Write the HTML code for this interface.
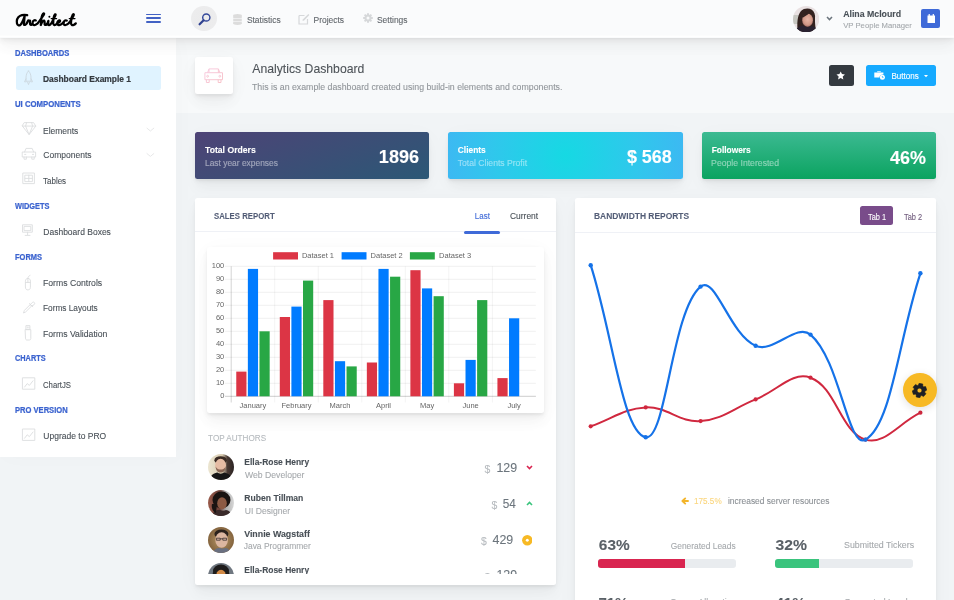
<!DOCTYPE html>
<html><head><meta charset="utf-8">
<style>
*{box-sizing:border-box;margin:0;padding:0}
html,body{width:954px;height:600px;overflow:hidden}body{filter:blur(.25px)}
body{-webkit-text-stroke:.1px currentColor;background:#f1f4f6;font-family:"Liberation Sans",sans-serif;color:#495057;position:relative;font-size:8.8px;line-height:1.5}
.a{position:absolute}
.t{position:absolute;white-space:nowrap;line-height:1}
/* header */
#hdr{left:0;top:0;width:954px;height:37.5px;background:#fafbfc;z-index:10;
 box-shadow:0 4.7px 22px rgba(4,9,20,.03),0 9.4px 14px rgba(4,9,20,.03),0 2.5px 5.3px rgba(4,9,20,.05),0 1.25px 1.9px rgba(4,9,20,.03)}
.hb{position:absolute;left:145.7px;width:15px;height:1.6px;background:#4262c4;border-radius:1px}
/* sidebar */
#side{left:0;top:37.5px;width:175.5px;height:419.5px;background:#fff;z-index:9;box-shadow:3px 0 20px rgba(0,0,0,.02)}
.sh{position:absolute;text-transform:uppercase;left:15.4px;font-size:8px;font-weight:bold;color:#3b63cf;-webkit-text-stroke:.22px #3b63cf;line-height:1;white-space:nowrap}
.si{position:absolute;left:43.3px;font-size:8.8px;color:#495057;line-height:1;white-space:nowrap}
.ic{position:absolute;left:22px;width:14px;height:14px;opacity:.32}
/* page title */
#pt{left:175.5px;top:37.5px;width:778.5px;height:75px;background:rgba(255,255,255,.45)}
.card{position:absolute;background:#fff;border-radius:2.5px;
 box-shadow:0 4.7px 22px rgba(4,9,20,.03),0 9.4px 14px rgba(4,9,20,.03),0 2.5px 5.3px rgba(4,9,20,.05),0 1.25px 1.9px rgba(4,9,20,.03)}
.w{height:46.8px;top:132px;width:234.6px;color:#fff}
.wh{position:absolute;left:10px;top:12px;font-weight:bold;font-size:8.8px;line-height:1;white-space:nowrap}
.ws{position:absolute;left:10px;top:25.5px;font-size:8.8px;line-height:1;opacity:.5;white-space:nowrap}
.wn{position:absolute;right:10px;top:16px;font-weight:bold;font-size:19px;line-height:1;white-space:nowrap}
.ch{position:absolute;left:0;top:0;right:0;height:34.6px;border-bottom:1px solid rgba(26,54,126,.07)}
.cht{position:absolute;text-transform:uppercase;left:19.4px;top:14px;font-size:8.8px;font-weight:bold;color:rgba(13,27,62,.7);line-height:1;white-space:nowrap}
#sb1{font-size:8.4px!important;letter-spacing:0px;transform-origin:0 0;transform:translate(0px,-0.48px) scaleX(0.9053)}#s_de{font-size:8.5px!important;letter-spacing:0px;transform-origin:0 0;transform:translate(0px,0px) scaleX(0.9911)}#sb2{font-size:8.4px!important;letter-spacing:0px;transform-origin:0 0;transform:translate(0px,0px) scaleX(0.9282)}#sb3{font-size:8.5px!important;letter-spacing:0px;transform-origin:0 0;transform:translate(0px,1.44px) scaleX(0.9951)}#sb4{font-size:8.5px!important;letter-spacing:0px;transform-origin:0 0;transform:translate(0px,0px) scaleX(1)}#sb5{font-size:8.5px!important;letter-spacing:0px;transform-origin:0 0;transform:translate(0px,0.64px) scaleX(0.94)}#sb6{font-size:8.4px!important;letter-spacing:0px;transform-origin:0 0;transform:translate(0px,0px) scaleX(0.8825)}#sb7{font-size:8.5px!important;letter-spacing:0px;transform-origin:0 0;transform:translate(0px,0px) scaleX(1)}#sb8{font-size:8.4px!important;letter-spacing:0px;transform-origin:0 0;transform:translate(0px,0.0px) scaleX(0.8933)}#sb9{font-size:8.5px!important;letter-spacing:0px;transform-origin:0 0;transform:translate(0px,0px) scaleX(1.019)}#sb10{font-size:8.5px!important;letter-spacing:0px;transform-origin:0 0;transform:translate(0px,0px) scaleX(0.9737)}#sb11{font-size:8.5px!important;letter-spacing:0px;transform-origin:0 0;transform:translate(0px,0.8px) scaleX(1.0198)}#sb12{font-size:8.4px!important;letter-spacing:0px;transform-origin:0 0;transform:translate(0px,0.0px) scaleX(0.8756)}#sb13{font-size:8.5px!important;letter-spacing:0px;transform-origin:0 0;transform:translate(0px,0.4px) scaleX(0.9113)}#sb14{font-size:8.4px!important;letter-spacing:0px;transform-origin:0 0;transform:translate(0px,0px) scaleX(0.9052)}#sb15{font-size:8.5px!important;letter-spacing:0px;transform-origin:0 0;transform:translate(0px,0.8px) scaleX(1)}#t_stat{font-size:8.45px!important;letter-spacing:0px;transform-origin:0 0;transform:translate(0px,0.8px) scaleX(1)}#t_proj{font-size:8.45px!important;letter-spacing:0px;transform-origin:0 0;transform:translate(0px,0.8px) scaleX(1)}#t_set{font-size:8.45px!important;letter-spacing:0px;transform-origin:0 0;transform:translate(0.2px,0.8px) scaleX(1)}#t_name{font-size:8.78px!important;letter-spacing:0px;transform-origin:0 0;transform:translate(0.55px,0px) scaleX(1)}#t_role{font-size:7.7px!important;letter-spacing:0px;transform-origin:0 0;transform:translate(0.65px,0px) scaleX(1)}#t_title{font-size:12.22px!important;letter-spacing:0px;transform-origin:0 0;transform:translate(0.5px,0px) scaleX(1)}#t_sub{font-size:8.8px!important;letter-spacing:0px;transform-origin:0 0;transform:translate(0.0px,0px) scaleX(0.9966)}#t_btn{font-size:8.3px!important;letter-spacing:0px;transform-origin:0 0;transform:translate(-0.6px,0.88px) scaleX(0.9714)}#w1h{font-size:8.4px!important;letter-spacing:0px;transform-origin:0 0;transform:translate(0.0px,2.02px) scaleX(1.0323)}#w1s{font-size:8.6px!important;letter-spacing:0px;transform-origin:0 0;transform:translate(0px,1.2px) scaleX(0.9784)}#w1n{font-size:18.1px!important;letter-spacing:0px;transform-origin:100% 0;transform:translate(0px,0px) scaleX(1)}#w2h{font-size:8.4px!important;letter-spacing:0px;transform-origin:0 0;transform:translate(-0.3px,2.02px) scaleX(1)}#w2s{font-size:8.6px!important;letter-spacing:0px;transform-origin:0 0;transform:translate(-0.3px,1.2px) scaleX(1)}#w2n{font-size:18.1px!important;letter-spacing:0px;transform-origin:100% 0;transform:translate(-0.5px,0.16px) scaleX(0.9916)}#w3h{font-size:8.4px!important;letter-spacing:0px;transform-origin:0 0;transform:translate(0px,2.02px) scaleX(1)}#w3s{font-size:8.6px!important;letter-spacing:0px;transform-origin:0 0;transform:translate(-0.9px,1.2px) scaleX(1.0079)}#w3n{font-size:18.1px!important;letter-spacing:0px;transform-origin:100% 0;transform:translate(-0.2px,1.28px) scaleX(0.992)}#c1t{font-size:8.6px!important;letter-spacing:0px;transform-origin:0 0;transform:translate(0px,0px) scaleX(0.9075)}#c2t{font-size:8.6px!important;letter-spacing:0px;transform-origin:0 0;transform:translate(0px,0px) scaleX(0.9814)}#t_last{font-size:8.3px!important;letter-spacing:0px;transform-origin:0 0;transform:translate(-0.25px,0px) scaleX(0.9647)}#t_cur{font-size:8.3px!important;letter-spacing:0px;transform-origin:0 0;transform:translate(-1.0px,0px) scaleX(1.0157)}#t_tab1{font-size:8.5px!important;letter-spacing:0px;transform-origin:0 0;transform:translate(0px,1.56px) scaleX(0.869)}#t_tab2{font-size:8.5px!important;letter-spacing:0px;transform-origin:0 0;transform:translate(0px,1.56px) scaleX(0.8725)}#t_top{font-size:8.3px!important;letter-spacing:0px;transform-origin:0 0;transform:translate(-0.9px,0px) scaleX(0.9797)}#t_pct{font-size:8.5px!important;letter-spacing:0px;transform-origin:0 0;transform:translate(0px,0px) scaleX(0.9586)}#t_inc{font-size:8.5px!important;letter-spacing:0px;transform-origin:0 0;transform:translate(0px,0px) scaleX(0.9893)}#p1n{font-size:15.4px!important;letter-spacing:0px;transform-origin:0 0;transform:translate(0.45px,-1.52px) scaleX(1)}#p1t{font-size:8.6px!important;letter-spacing:0px;transform-origin:0 0;transform:translate(-0.25px,0.88px) scaleX(0.9761)}#p2n{font-size:15.4px!important;letter-spacing:0px;transform-origin:0 0;transform:translate(-0.45px,-2.08px) scaleX(1.0226)}#p2t{font-size:8.6px!important;letter-spacing:0px;transform-origin:0 0;transform:translate(0px,0px) scaleX(1.0265)}#an0{font-size:8.5px!important;letter-spacing:0px;transform-origin:0 0;transform:translate(-0.7px,1.44px) scaleX(0.9941)}#as0{font-size:8.5px!important;letter-spacing:0px;transform-origin:0 0;transform:translate(0.0px,0.8px) scaleX(1.0174)}#an1{font-size:8.5px!important;letter-spacing:0px;transform-origin:0 0;transform:translate(-0.7px,1.04px) scaleX(1.0105)}#as1{font-size:8.5px!important;letter-spacing:0px;transform-origin:0 0;transform:translate(-0.2px,1.44px) scaleX(1.0096)}#an2{font-size:8.5px!important;letter-spacing:0px;transform-origin:0 0;transform:translate(-0.8px,0.8px) scaleX(1.0374)}#as2{font-size:8.5px!important;letter-spacing:0px;transform-origin:0 0;transform:translate(-1.3px,0px) scaleX(0.9943)}#an3{font-size:8.5px!important;letter-spacing:0px;transform-origin:0 0;transform:translate(-0.7px,1.04px) scaleX(0.9941)}#av0{font-size:12.4px!important;letter-spacing:0px;transform-origin:100% 0;transform:translate(0px,1.28px) scaleX(1)}#av1{font-size:12.4px!important;letter-spacing:0px;transform-origin:100% 0;transform:translate(-1.05px,0.8px) scaleX(0.95)}#av2{font-size:12.4px!important;letter-spacing:0px;transform-origin:100% 0;transform:translate(0.75px,1.44px) scaleX(1)}</style></head>
<body>
<!-- HEADER -->
<div id="hdr" class="a">
 <svg class="a" style="left:14px;top:10px" width="64" height="18" viewBox="0 0 64 18" fill="none" stroke="#000" stroke-width="2.25" stroke-linecap="round" stroke-linejoin="round">
  <path d="M 13.20 5.15 C 11.00 4.70 8.00 4.70 6.00 5.90 C 3.50 7.40 2.40 10.50 3.00 13.60 C 3.40 15.40 5.00 15.90 6.40 14.80 C 8.20 13.40 9.60 9.00 10.60 6.50 L 9.90 14.40 C 10.40 15.40 11.60 15.00 12.60 13.60 C 13.20 12.60 13.80 11.20 14.20 10.40 C 14.80 10.60 15.40 10.90 16.00 10.60 C 15.90 12.00 15.80 13.60 16.20 14.40 C 16.80 15.20 17.60 14.80 18.20 14.00"/>
  <path d="M 21.80 10.40 C 20.60 9.80 19.00 10.60 18.60 12.20 C 18.20 14.00 19.20 15.40 21.00 15.00 C 21.80 14.80 22.60 14.20 23.40 13.60 C 25.00 12.00 27.60 8.00 29.40 5.45 C 30.20 4.25 30.40 3.35 29.60 3.42 C 28.40 3.65 27.60 6.50 27.20 10.00 L 26.80 15.00 C 27.60 13.00 28.80 10.60 30.00 10.60 C 31.00 10.80 30.60 13.00 30.60 14.20 C 30.80 15.20 31.80 15.20 32.60 14.40 C 33.40 13.60 34.00 12.20 34.40 10.80 L 34.00 14.00 C 34.20 15.40 35.40 15.40 36.40 14.40 C 38.00 12.80 40.00 8.00 41.40 5.45 C 42.00 4.25 41.40 3.95 40.80 4.70 C 39.80 6.20 39.20 10.00 39.20 13.20 C 39.40 15.20 40.60 15.40 41.80 14.60 C 43.00 13.80 44.40 12.60 45.60 11.80 C 46.40 11.20 46.20 10.20 45.20 10.40 C 43.80 10.80 43.00 12.60 43.20 13.80 C 43.60 15.40 45.40 15.40 46.80 14.60 C 48.00 13.80 49.00 13.00 49.60 12.40"/>
  <path d="M 52.80 10.60 C 51.80 9.80 50.20 10.60 49.60 12.20 C 49.20 13.80 50.00 15.20 51.60 15.00 C 52.60 14.90 53.60 14.20 54.60 13.40 C 56.20 11.80 58.40 8.00 59.60 5.60 C 60.20 4.25 59.60 3.80 58.80 4.70 C 57.80 6.20 57.00 9.60 57.00 12.60 C 57.00 15.00 58.20 15.60 59.60 15.00 C 60.60 14.60 61.20 14.00 61.80 13.40"/>
  <path d="M37.2 8.6 L42.6 8.6 M55.2 8.6 L61 8.6" stroke-width="1.2"/>
  <circle cx="35.4" cy="6.8" r="1" fill="#000" stroke="none"/>
 </svg>
 <div class="a" style="left:0;top:35.3px;width:954px;height:2.2px;background:linear-gradient(#fafbfc,#fff 60%,#fff)"></div>
 <div class="hb" style="top:13.7px"></div><div class="hb" style="top:17.45px"></div><div class="hb" style="top:21.2px"></div>
 <div class="a" style="left:191.4px;top:5.9px;width:25.2px;height:25.2px;border-radius:50%;background:radial-gradient(circle,#ebebec 0%,#ececed 70%,#f0f1f2 100%)"></div>
 <svg class="a" style="left:195px;top:9px" width="18" height="18" viewBox="195 9 18 18"><circle cx="206.3" cy="17.5" r="3.6" fill="none" stroke="#34489a" stroke-width="1.45"/><path d="M203.6 20.3 L199.6 24.3" stroke="#2f4190" stroke-width="2.2" stroke-linecap="round"/></svg>
 <!-- nav -->
 <svg class="a" style="left:233px;top:13.5px" width="9" height="11" viewBox="0 0 9 11"><g fill="#dcdcdc"><ellipse cx="4.5" cy="1.6" rx="4.3" ry="1.5"/><rect x=".2" y="1.6" width="8.6" height="2.4"/><rect x=".2" y="4.6" width="8.6" height="2.4"/><rect x=".2" y="7.6" width="8.6" height="2.2"/><ellipse cx="4.5" cy="9.6" rx="4.3" ry="1.3"/></g></svg>
 <div class="t" id="t_stat" style="left:246.9px;top:15.2px;font-size:8.8px;color:#62676c">Statistics</div>
 <svg class="a" style="left:297.5px;top:13px" width="12" height="12" viewBox="0 0 12 12"><path d="M1 2.5 H6.5 M1 2.5 V11 H9.5 V6" fill="none" stroke="#d6d8da" stroke-width="1.2"/><path d="M4.5 8 L5 6.3 L10.3 1 L11.4 2.1 L6.1 7.4 Z" fill="#d6d8da"/></svg>
 <div class="t" id="t_proj" style="left:313.6px;top:15.2px;font-size:8.8px;color:#62676c">Projects</div>
 <svg class="a" style="left:362.5px;top:13.2px" width="10" height="10" viewBox="0 0 10 10"><g fill="#d6d8da"><circle cx="5" cy="5" r="3.5"/><g stroke="#d6d8da" stroke-width="2"><path d="M5 .2V9.8M.2 5H9.8M1.6 1.6L8.4 8.4M8.4 1.6L1.6 8.4"/></g></g><circle cx="5" cy="5" r="1.5" fill="#fafbfc"/></svg>
 <div class="t" id="t_set" style="left:376.8px;top:15.2px;font-size:8.8px;color:#62676c">Settings</div>
 <!-- user -->
 <svg class="a" style="left:792.9px;top:5.5px" width="26.3" height="26.3" viewBox="0 0 26.3 26.3">
  <defs><clipPath id="ua"><circle cx="13.15" cy="13.15" r="13.15"/></clipPath>
  <radialGradient id="uf" cx=".5" cy=".45" r=".55"><stop offset="0" stop-color="#e8b4a4"/><stop offset=".7" stop-color="#d39a88"/><stop offset="1" stop-color="#a8706a"/></radialGradient></defs>
  <g clip-path="url(#ua)">
   <rect width="26.3" height="26.3" fill="#e9e1e2"/>
   <rect x="0" y="9" width="6" height="9" fill="#b8bcb4" opacity=".7"/>
   <path d="M5 26 C3.5 18 4.5 9 8 5 C10.5 2.2 15.5 1.8 18.5 3.5 C21.5 5.5 22.5 9 22 13 C21.8 17 22.5 21 23 26Z" fill="#33221f"/>
   <ellipse cx="14.6" cy="14.2" rx="5.4" ry="6.6" fill="url(#uf)"/>
   <path d="M9.5 11 C11 7 14 5.5 17 5.8 C16 8 13.5 9.5 10 11.5Z" fill="#33221f"/>
   <path d="M2 27 C3 21.5 7 19.5 10.5 19.8 C12.5 21.5 16.5 21.5 18.5 20 C22 20.3 24.5 22.5 25 27Z" fill="#2a2230"/>
  </g>
 </svg>
 <svg class="a" style="left:826px;top:15.5px" width="7" height="5" viewBox="0 0 7 5"><path d="M1 1 L3.5 3.6 L6 1" fill="none" stroke="#6c757d" stroke-width="1.5"/></svg>
 <div class="t" id="t_name" style="left:842.6px;top:9.6px;font-size:8.8px;font-weight:bold;color:#495057">Alina Mclourd</div>
 <div class="t" id="t_role" style="left:842.6px;top:22px;font-size:7.8px;color:#495057;opacity:.5">VP People Manager</div>
 <div class="a" style="left:921.4px;top:9.4px;width:18.6px;height:18.4px;border-radius:2px;background:#3f6ad8"></div>
 <svg class="a" style="left:925.5px;top:12.5px" width="10.5" height="12" viewBox="0 0 10.5 12"><rect x="1.5" y="2.5" width="7.5" height="7.5" fill="#fff"/><rect x="2.6" y="1" width="1.2" height="2.5" fill="#fff"/><rect x="6.7" y="1" width="1.2" height="2.5" fill="#fff"/></svg>
</div>

<!-- SIDEBAR -->
<div id="side" class="a">
 <div class="sh" id="sb1" style="top:11.6px">Dashboards</div>
 <div class="a" style="left:15.5px;top:28.9px;width:145px;height:23.6px;background:#e0f3ff;border-radius:2.5px"></div>
 <div class="si" id="s_de" style="top:37.3px;font-weight:bold;color:#343a40;-webkit-text-stroke:.2px #343a40">Dashboard Example 1</div>
 <div class="sh" id="sb2" style="top:62.4px">UI Components</div>
 <div class="si" id="sb3" style="top:88.7px">Elements</div>
 <div class="si" id="sb4" style="top:113.8px">Components</div>
 <div class="si" id="sb5" style="top:138.6px">Tables</div>
 <div class="sh" id="sb6" style="top:164.4px">Widgets</div>
 <div class="si" id="sb7" style="top:190.3px">Dashboard Boxes</div>
 <div class="sh" id="sb8" style="top:215.9px">Forms</div>
 <div class="si" id="sb9" style="top:241.5px">Forms Controls</div>
 <div class="si" id="sb10" style="top:266.3px">Forms Layouts</div>
 <div class="si" id="sb11" style="top:291.8px">Forms Validation</div>
 <div class="sh" id="sb12" style="top:316.9px">Charts</div>
 <div class="si" id="sb13" style="top:343px">ChartJS</div>
 <div class="sh" id="sb14" style="top:368.4px">Pro Version</div>
 <div class="si" id="sb15" style="top:393.8px">Upgrade to PRO</div>
</div>

<svg class="a" style="left:0;top:0;z-index:9" width="180" height="460" viewBox="0 0 180 460" fill="none" stroke="#b9bcbf" stroke-width=".9" stroke-linejoin="round" stroke-linecap="round">
 <g opacity=".5">
 <path d="M28.5 71 C30.3 72.6 31 75 31 78 V81.2 H26 V78 C26 75 26.7 72.6 28.5 71Z M26 78.8 L24.5 81.8 H26 M31 78.8 L32.6 81.8 H31 M27.6 82.2 L28.5 84.6 L29.4 82.2"/>
 <path d="M24.6 122.6 H33.6 L35.8 126.1 L29.1 134.6 L22.4 126.1Z M22.4 126.1 H35.8 M26.6 122.6 L25.6 126.1 L29.1 134.6 L32.6 126.1 L31.6 122.6"/>
 <path d="M24.6 152 L26 148.4 H32.2 L33.6 152 M22.6 152 H35.6 V157 H22.6Z M24 157 V159.2 H26.4 V157 M31.8 157 V159.2 H34.2 V157 M24.6 154.4 H25.8 M32.4 154.4 H33.6"/>
 <path d="M23.2 173 H34.4 V183.6 H23.2Z M25.2 175.2 H32.4 V181.6 H25.2Z M25.2 178.4 H32.4 M28.8 175.2 V181.6"/>
 <path d="M22.9 224.8 H32.3 V232.2 H22.9Z M27.6 232.2 V234.6 M25.2 235.4 H30 M24.4 226.4 H30.8 V230.6 H24.4Z"/>
 <path d="M25.4 281 C25.4 279.4 26.4 278.4 27.9 278.4 C29.4 278.4 30.4 279.4 30.4 281 V287.4 C30.4 289 29.4 289.9 27.9 289.9 C26.4 289.9 25.4 289 25.4 287.4Z M27.9 278.4 V282.4 M25.4 282.4 H30.4 M27.9 278.4 C27.9 277 28.6 276 30 275.4"/>
 <path d="M23.6 312.6 L24.4 310.4 L30.2 304.6 L31.6 306 L25.8 311.8Z M30.2 304.6 L32.2 302.6 C32.9 301.9 34 301.9 34.4 302.6 C34.9 303.2 34.7 304.1 34 304.8 L31.6 306 M29.6 303.6 L32.8 306.8"/>
 <path d="M26.3 325.6 H29.9 V329.6 H26.3Z M25.5 329.6 H30.8 V338.6 C30.8 339.4 30.2 340 29.4 340 H26.9 C26.1 340 25.5 339.4 25.5 338.6Z M27.3 327 V328 M28.9 327 V328"/>
 <path d="M22.8 377.8 H34.8 V389.2 H22.8Z M24.6 387 L27.2 383.6 L29.4 385.4 L33 380.8"/>
 <path d="M22.8 429 H34.8 V440.4 H22.8Z M24.6 438.2 L27.2 434.8 L29.4 436.6 L33 432"/>
 <path d="M147 128.2 L150.4 131 L153.8 128.2 M147 153.6 L150.4 156.4 L153.8 153.6" stroke="#c9cbcd"/>
 </g>
</svg>

<!-- PAGE TITLE -->
<div id="pt" class="a">
 <div class="card" style="left:19.5px;top:19px;width:37.6px;height:37.6px"></div>
 <svg class="a" style="left:19.5px;top:19px" width="37.6" height="37.6" viewBox="195 56.5 37.6 37.6" fill="none" stroke-width=".95" stroke-linejoin="round">
  <defs><linearGradient id="mf" x1="0" y1="0" x2="1" y2="1"><stop offset="0" stop-color="#f3a0c8"/><stop offset="1" stop-color="#f08a96"/></linearGradient></defs>
  <g stroke="url(#mf)" opacity=".55">
  <path d="M207.6 72.2 L209 68.4 H218.4 L219.8 72.2 M204.9 72.2 H222.5 V79.2 H204.9Z M206.4 79.2 V82 H209.2 V79.2 M218.2 79.2 V82 H221 V79.2 M209 68.4 V72.2 M218.4 68.4 V72.2"/>
  <circle cx="207.6" cy="75.7" r=".9"/><circle cx="219.8" cy="75.7" r=".9"/><path d="M211.5 76.4 H215.9"/>
  </g>
 </svg>


 <div class="t" id="t_title" style="left:76.3px;top:25.5px;font-size:12.5px;color:#4d5358;-webkit-text-stroke:.1px #4d5358">Analytics Dashboard</div>
 <div class="t" id="t_sub" style="left:76.3px;top:45.3px;font-size:8.8px;color:#495057;opacity:.6">This is an example dashboard created using build-in elements and components.</div>
 <div class="a" style="left:653px;top:27.7px;width:25.3px;height:20.6px;background:#343a40;border-radius:2.5px"></div>
 <div class="a" style="left:690.6px;top:27.7px;width:70px;height:20.4px;background:#16aaff;border-radius:2.5px"></div>
 <div class="t" id="t_btn" style="left:716.3px;top:33.5px;font-size:8.8px;color:#fff">Buttons</div>
 <svg class="a" style="left:660.9px;top:33.6px" width="9.4" height="9.4" viewBox="0 0 10 10"><path d="M5 .4 L6.35 3.3 L9.5 3.65 L7.15 5.8 L7.8 8.95 L5 7.35 L2.2 8.95 L2.85 5.8 L.5 3.65 L3.65 3.3Z" fill="#fff"/></svg>
 <svg class="a" style="left:698px;top:33.4px" width="11" height="9" viewBox="0 0 11 9" fill="#fff"><path d="M3.2 1.2 V.3 H6.8 V1.2 H3.9 Z" /><path d="M.3 1.5 H9.4 V3.6 A3.2 3.2 0 0 0 5.4 6.6 H.3Z"/><circle cx="8.4" cy="6.3" r="2.5"/><path d="M8.4 5 V6.4 H9.5" stroke="#16aaff" stroke-width=".7" fill="none"/></svg>
 <svg class="a" style="left:748.7px;top:37px" width="4" height="3" viewBox="0 0 4 3"><path d="M0 0 H4 L2 2.2Z" fill="#fff"/></svg>
</div>

<!-- WIDGETS -->
<div class="card w" style="left:194.5px;background:linear-gradient(-20deg,#2b5876 0%,#4e4376 100%)">
 <div class="wh" id="w1h">Total Orders</div><div class="ws" id="w1s">Last year expenses</div><div class="wn" id="w1n">1896</div>
</div>
<div class="card w" style="left:448.1px;background:radial-gradient(circle 155px at center,#16d9e3 0%,#30c7ec 47%,#46aef7 100%)">
 <div class="wh" id="w2h">Clients</div><div class="ws" id="w2s">Total Clients Profit</div><div class="wn" id="w2n">$ 568</div>
</div>
<div class="card w" style="left:701.7px;background:linear-gradient(to top,#0ba360 0%,#3cba92 100%)">
 <div class="wh" id="w3h">Followers</div><div class="ws" id="w3s">People Interested</div><div class="wn" id="w3n">46%</div>
</div>

<!-- SALES REPORT -->
<div class="card" style="left:194.5px;top:197.8px;width:361.6px;height:387.7px">
 <div class="ch"><div class="cht" id="c1t">Sales Report</div></div>
</div>
<div class="t" id="t_last" style="left:475.4px;top:212.3px;font-size:8.8px;color:#3f6ad8">Last</div>
<div class="t" id="t_cur" style="left:510.6px;top:212.3px;font-size:8.8px;color:#495057">Current</div>
<div class="a" style="left:464.2px;top:231.3px;width:36px;height:2.5px;border-radius:2px;background:#3f6ad8"></div>
<div class="card" style="left:207.2px;top:246.6px;width:336.8px;height:166.7px"></div>
<svg class="a" style="left:0;top:0" width="954" height="600" viewBox="0 0 954 600" font-family="Liberation Sans" font-size="7.5" fill="#666">
<path d="M225 396.30H535.9" stroke="rgba(0,0,0,.25)" stroke-width=".8"/>
<text x="224.3" y="397.90" text-anchor="end">0</text>
<path d="M225 383.30H535.9" stroke="rgba(0,0,0,.075)" stroke-width=".8"/>
<text x="224.3" y="384.90" text-anchor="end">10</text>
<path d="M225 370.30H535.9" stroke="rgba(0,0,0,.075)" stroke-width=".8"/>
<text x="224.3" y="371.90" text-anchor="end">20</text>
<path d="M225 357.30H535.9" stroke="rgba(0,0,0,.075)" stroke-width=".8"/>
<text x="224.3" y="358.90" text-anchor="end">30</text>
<path d="M225 344.30H535.9" stroke="rgba(0,0,0,.075)" stroke-width=".8"/>
<text x="224.3" y="345.90" text-anchor="end">40</text>
<path d="M225 331.30H535.9" stroke="rgba(0,0,0,.075)" stroke-width=".8"/>
<text x="224.3" y="332.90" text-anchor="end">50</text>
<path d="M225 318.30H535.9" stroke="rgba(0,0,0,.075)" stroke-width=".8"/>
<text x="224.3" y="319.90" text-anchor="end">60</text>
<path d="M225 305.30H535.9" stroke="rgba(0,0,0,.075)" stroke-width=".8"/>
<text x="224.3" y="306.90" text-anchor="end">70</text>
<path d="M225 292.30H535.9" stroke="rgba(0,0,0,.075)" stroke-width=".8"/>
<text x="224.3" y="293.90" text-anchor="end">80</text>
<path d="M225 279.30H535.9" stroke="rgba(0,0,0,.075)" stroke-width=".8"/>
<text x="224.3" y="280.90" text-anchor="end">90</text>
<path d="M225 266.30H535.9" stroke="rgba(0,0,0,.075)" stroke-width=".8"/>
<text x="224.3" y="267.90" text-anchor="end">100</text>
<path d="M231.20 266.3V402.5" stroke="rgba(0,0,0,.25)" stroke-width=".7"/>
<path d="M274.73 266.3V402.5" stroke="rgba(0,0,0,.07)" stroke-width=".7"/>
<path d="M318.26 266.3V402.5" stroke="rgba(0,0,0,.07)" stroke-width=".7"/>
<path d="M361.79 266.3V402.5" stroke="rgba(0,0,0,.07)" stroke-width=".7"/>
<path d="M405.31 266.3V402.5" stroke="rgba(0,0,0,.07)" stroke-width=".7"/>
<path d="M448.84 266.3V402.5" stroke="rgba(0,0,0,.07)" stroke-width=".7"/>
<path d="M492.37 266.3V402.5" stroke="rgba(0,0,0,.07)" stroke-width=".7"/>
<text x="252.96" y="407.9" text-anchor="middle">January</text>
<rect x="236.26" y="371.60" width="10.2" height="24.70" fill="#dc3545"/>
<rect x="247.86" y="268.90" width="10.2" height="127.40" fill="#007bff"/>
<rect x="259.47" y="331.30" width="10.2" height="65.00" fill="#28a745"/>
<text x="296.49" y="407.9" text-anchor="middle">February</text>
<rect x="279.79" y="317.00" width="10.2" height="79.30" fill="#dc3545"/>
<rect x="291.39" y="306.60" width="10.2" height="89.70" fill="#007bff"/>
<rect x="303.00" y="280.60" width="10.2" height="115.70" fill="#28a745"/>
<text x="340.02" y="407.9" text-anchor="middle">March</text>
<rect x="323.31" y="300.10" width="10.2" height="96.20" fill="#dc3545"/>
<rect x="334.92" y="361.20" width="10.2" height="35.10" fill="#007bff"/>
<rect x="346.53" y="366.40" width="10.2" height="29.90" fill="#28a745"/>
<text x="383.55" y="407.9" text-anchor="middle">April</text>
<rect x="366.84" y="362.50" width="10.2" height="33.80" fill="#dc3545"/>
<rect x="378.45" y="268.90" width="10.2" height="127.40" fill="#007bff"/>
<rect x="390.06" y="276.70" width="10.2" height="119.60" fill="#28a745"/>
<text x="427.08" y="407.9" text-anchor="middle">May</text>
<rect x="410.37" y="270.20" width="10.2" height="126.10" fill="#dc3545"/>
<rect x="421.98" y="288.40" width="10.2" height="107.90" fill="#007bff"/>
<rect x="433.59" y="296.20" width="10.2" height="100.10" fill="#28a745"/>
<text x="470.61" y="407.9" text-anchor="middle">June</text>
<rect x="453.90" y="383.30" width="10.2" height="13.00" fill="#dc3545"/>
<rect x="465.51" y="359.90" width="10.2" height="36.40" fill="#007bff"/>
<rect x="477.11" y="300.10" width="10.2" height="96.20" fill="#28a745"/>
<text x="514.14" y="407.9" text-anchor="middle">July</text>
<rect x="497.43" y="378.10" width="10.2" height="18.20" fill="#dc3545"/>
<rect x="509.04" y="318.30" width="10.2" height="78.00" fill="#007bff"/>
<rect x="273.1" y="252.2" width="24.9" height="7.3" fill="#dc3545"/>
<text x="301.9" y="258.0">Dataset 1</text>
<rect x="341.6" y="252.2" width="24.9" height="7.3" fill="#007bff"/>
<text x="370.6" y="258.0">Dataset 2</text>
<rect x="409.9" y="252.2" width="24.9" height="7.3" fill="#28a745"/>
<text x="439.1" y="258.0">Dataset 3</text>
</svg>
<div class="t" id="t_top" style="left:208.5px;top:433.8px;font-size:8.2px;color:#6c757d;opacity:.5">TOP AUTHORS</div>
<div class="a" style="left:194.5px;top:450px;width:361px;height:123.6px;overflow:hidden">
 <svg class="a" style="left:13.4px;top:4.2px" width="26" height="26" viewBox="0 0 26 26"><clipPath id="cp1"><circle cx="13" cy="13" r="13"/></clipPath><g clip-path="url(#cp1)"><defs><linearGradient id="ag1" x1="0" x2="1"><stop offset="0" stop-color="#ece6d2"/><stop offset=".55" stop-color="#d8cbb0"/><stop offset=".75" stop-color="#4a3a34"/><stop offset="1" stop-color="#2a2222"/></linearGradient></defs><rect width="26" height="26" fill="url(#ag1)"/><ellipse cx="12.6" cy="6.2" rx="6.2" ry="4" fill="#3b2b24"/><ellipse cx="12.6" cy="11.4" rx="5.4" ry="6.6" fill="#e6bca4"/><path d="M7.6 12.5 C8 17 10 18.6 12.6 18.6 C15.2 18.6 17.2 17 17.6 12.5 C16.5 15 14.5 15.6 12.6 15.6 C10.7 15.6 8.7 15 7.6 12.5Z" fill="#6b4a3a" opacity=".75"/><path d="M1 27 C2 21 6 19 9.5 18.5 C11 20 14.5 20 16 18.5 C19.5 19 24 21 25 27Z" fill="#161616"/></g></svg>
<div class="t" id="an0" style="left:50px;top:6.50px;font-size:8.8px;font-weight:bold;color:#495057">Ella-Rose Henry</div>
<div class="t" id="as0" style="left:50px;top:19.60px;font-size:8.8px;color:#495057;opacity:.5">Web Developer</div>
<div class="t" id="av0" style="right:38.40px;top:10.63px;font-size:12.4px;color:#6c757d">129</div>
<div class="t" id="ad0" style="left:290.00px;top:14.52px;font-size:10.4px;color:#6c757d;opacity:.5">$</div>
<svg class="a" style="left:331.50px;top:15.20px" width="7" height="5" viewBox="0 0 7 5"><path d="M1 1L3.5 3.5L6 1" fill="none" stroke="#d92550" stroke-width="1.6"/></svg>
<svg class="a" style="left:13.4px;top:40.4px" width="26" height="26" viewBox="0 0 26 26"><clipPath id="cp2"><circle cx="13" cy="13" r="13"/></clipPath><g clip-path="url(#cp2)"><defs><linearGradient id="ag2" x1="0" x2="1"><stop offset="0" stop-color="#9a5a4a"/><stop offset=".45" stop-color="#6a4038"/><stop offset=".7" stop-color="#b0b0b0"/><stop offset="1" stop-color="#d8d8d8"/></linearGradient></defs><rect width="26" height="26" fill="url(#ag2)"/><ellipse cx="13.5" cy="10" rx="9" ry="8.4" fill="#1a1412"/><ellipse cx="14" cy="13.2" rx="4.8" ry="6" fill="#8c5a44"/><path d="M3 27 C5 21 9 19.5 12 20 C14 21 16 21 18 20 C21 20.5 23 22 24 27Z" fill="#3a2a2a"/><path d="M4 14 C3 18 5 22 8 23 L9 14Z" fill="#1a1412"/></g></svg>
<div class="t" id="an1" style="left:50px;top:42.70px;font-size:8.8px;font-weight:bold;color:#495057">Ruben Tillman</div>
<div class="t" id="as1" style="left:50px;top:55.80px;font-size:8.8px;color:#495057;opacity:.5">UI Designer</div>
<div class="t" id="av1" style="right:38.90px;top:46.83px;font-size:12.4px;color:#6c757d">54</div>
<div class="t" id="ad1" style="left:297.00px;top:50.72px;font-size:10.4px;color:#6c757d;opacity:.5">$</div>
<svg class="a" style="left:331.50px;top:51.00px" width="7" height="5" viewBox="0 0 7 5"><path d="M1 4L3.5 1.5L6 4" fill="none" stroke="#3ac47d" stroke-width="1.6"/></svg>
<svg class="a" style="left:13.4px;top:76.6px" width="26" height="26" viewBox="0 0 26 26"><clipPath id="cp3"><circle cx="13" cy="13" r="13"/></clipPath><g clip-path="url(#cp3)"><defs><radialGradient id="ag3" cx=".5" cy=".5" r=".6"><stop offset="0" stop-color="#b89868"/><stop offset="1" stop-color="#7a5a36"/></radialGradient></defs><rect width="26" height="26" fill="url(#ag3)"/><ellipse cx="13.4" cy="7" rx="7" ry="4.6" fill="#2c221c"/><ellipse cx="13.6" cy="13" rx="6.3" ry="7.8" fill="#dcb6a0"/><path d="M8.4 11.2 H12.2 V13.2 H8.4Z M14.8 11.2 H18.6 V13.2 H14.8Z M12.2 11.8 H14.8" fill="none" stroke="#3a3030" stroke-width=".8"/><path d="M4 27 C6 22 9 20.5 12 21 C13.5 21.8 15.5 21.8 17 21 C20 21 22 23 23 27Z" fill="#6a7080"/></g></svg>
<div class="t" id="an2" style="left:50px;top:78.90px;font-size:8.8px;font-weight:bold;color:#495057">Vinnie Wagstaff</div>
<div class="t" id="as2" style="left:50px;top:92.00px;font-size:8.8px;color:#495057;opacity:.5">Java Programmer</div>
<div class="t" id="av2" style="right:43.00px;top:83.03px;font-size:12.4px;color:#6c757d">429</div>
<div class="t" id="ad2" style="left:286.50px;top:86.92px;font-size:10.4px;color:#6c757d;opacity:.5">$</div>
<svg class="a" style="left:327.00px;top:85.00px" width="10.6" height="10.6" viewBox="0 0 10.6 10.6"><circle cx="5.3" cy="5.3" r="5.2" fill="#f7b924"/><circle cx="5.3" cy="5.3" r="1.5" fill="#fff"/></svg>
<svg class="a" style="left:13.4px;top:112.8px" width="26" height="26" viewBox="0 0 26 26"><clipPath id="cp4"><circle cx="13" cy="13" r="13"/></clipPath><g clip-path="url(#cp4)"><rect width="26" height="26" fill="#6f7780"/><ellipse cx="13" cy="8" rx="8" ry="6.5" fill="#1e1c1c"/><ellipse cx="13" cy="13.5" rx="5.2" ry="6.8" fill="#d28a46"/><path d="M5 9 C4 14 5 18 7 20 L8.5 10Z M21 9 C22 14 21 18 19 20 L17.5 10Z" fill="#1e1c1c"/></g></svg>
<div class="t" id="an3" style="left:50px;top:115.10px;font-size:8.8px;font-weight:bold;color:#495057">Ella-Rose Henry</div>
<div class="t" id="as3" style="left:50px;top:128.20px;font-size:8.8px;color:#495057;opacity:.5">Web Developer</div>
<div class="t" id="av3" style="right:38.40px;top:119.23px;font-size:12.4px;color:#6c757d">129</div>
<div class="t" id="ad3" style="left:290.00px;top:123.12px;font-size:10.4px;color:#6c757d;opacity:.5">$</div>
<svg class="a" style="left:331.50px;top:123.80px" width="7" height="5" viewBox="0 0 7 5"><path d="M1 1L3.5 3.5L6 1" fill="none" stroke="#d92550" stroke-width="1.6"/></svg>
</div>

<!-- BANDWIDTH -->
<div class="card" style="left:574.8px;top:198px;width:361.2px;height:420px">
 <div class="ch"><div class="cht" id="c2t">Bandwidth Reports</div></div>
</div>
<div class="a" style="left:859.9px;top:205.7px;width:33.3px;height:19px;border-radius:2.5px;background:#794c8a"></div>
<div class="t" id="t_tab1" style="left:867.9px;top:211px;font-size:8.8px;color:#fff">Tab 1</div>
<div class="t" id="t_tab2" style="left:904.2px;top:211px;font-size:8.8px;color:#6f5a7c">Tab 2</div>
<svg class="a" style="left:0;top:0" width="954" height="600" viewBox="0 0 954 600">
<path d="M590.7 426.3 C612.7 418.7 623.4 408.5 645.7 407.4 C667.3 406.4 679.1 422.7 700.6 421.1 C723.0 419.5 733.6 408.1 755.6 399.4 C777.5 390.7 792.2 371.0 810.5 377.7 C836.2 387.1 840.2 431.6 865.5 439.6 C884.1 445.6 898.4 423.5 920.4 412.7" fill="none" stroke="#d0283f" stroke-width="2"/>
<path d="M590.7 265.2 C612.7 334.0 622.4 432.7 645.7 437.2 C666.3 441.2 671.4 310.9 700.6 286.6 C715.3 274.4 729.6 334.5 755.6 345.8 C773.6 353.7 796.4 322.5 810.5 334.6 C840.3 360.1 847.7 449.5 865.5 439.6 C891.7 425.0 898.4 339.8 920.4 273.3" fill="none" stroke="#1572e8" stroke-width="2.2"/>
<circle cx="590.7" cy="426.3" r="2.1" fill="#d0283f"/>
<circle cx="645.7" cy="407.4" r="2.1" fill="#d0283f"/>
<circle cx="700.6" cy="421.1" r="2.1" fill="#d0283f"/>
<circle cx="755.6" cy="399.4" r="2.1" fill="#d0283f"/>
<circle cx="810.5" cy="377.7" r="2.1" fill="#d0283f"/>
<circle cx="865.5" cy="439.6" r="2.1" fill="#d0283f"/>
<circle cx="920.4" cy="412.7" r="2.1" fill="#d0283f"/>
<circle cx="590.7" cy="265.2" r="2.2" fill="#1572e8"/>
<circle cx="645.7" cy="437.2" r="2.2" fill="#1572e8"/>
<circle cx="700.6" cy="286.6" r="2.2" fill="#1572e8"/>
<circle cx="755.6" cy="345.8" r="2.2" fill="#1572e8"/>
<circle cx="810.5" cy="334.6" r="2.2" fill="#1572e8"/>
<circle cx="865.5" cy="439.6" r="2.2" fill="#1572e8"/>
<circle cx="920.4" cy="273.3" r="2.2" fill="#1572e8"/>
</svg>
<svg class="a" style="left:680.6px;top:496.7px" width="8" height="8" viewBox="0 0 8 8"><path d="M7 4H1.8M4.2 1.4L1.4 4L4.2 6.6" fill="none" stroke="#f3b52a" stroke-width="1.9" stroke-linecap="round" stroke-linejoin="round"/></svg>
<div class="t" id="t_pct" style="left:694.3px;top:496.6px;font-size:8.8px;color:#f7b924;opacity:.6">175.5%</div>
<div class="t" id="t_inc" style="left:727.8px;top:496.6px;font-size:8.8px;color:#8b9095">increased server resources</div>

<div class="t" id="p1n" style="left:598.4px;top:538.6px;font-size:15px;font-weight:bold;color:#495057;opacity:.9">63%</div>
<div class="t" id="p1t" style="left:670.5px;top:541.2px;font-size:8.8px;color:#495057;opacity:.5">Generated Leads</div>
<div class="a" style="left:598px;top:558.8px;width:137.9px;height:9.4px;border-radius:3px;background:#e9ecef;overflow:hidden"><div style="width:63%;height:100%;background:#d92550"></div></div>
<div class="t" id="p2n" style="left:775.5px;top:538.6px;font-size:15px;font-weight:bold;color:#495057;opacity:.9">32%</div>
<div class="t" id="p2t" style="left:844px;top:541.2px;font-size:8.8px;color:#495057;opacity:.5">Submitted Tickers</div>
<div class="a" style="left:775.1px;top:558.8px;width:138.1px;height:9.4px;border-radius:3px;background:#e9ecef;overflow:hidden"><div style="width:32%;height:100%;background:#3ac47d"></div></div>
<div class="t" style="left:598.4px;top:595px;font-size:15px;font-weight:bold;color:#495057;opacity:.9">71%</div>
<div class="t" style="left:670.5px;top:597.6px;font-size:8.8px;color:#495057;opacity:.5">Server Allocation</div>
<div class="t" style="left:775.5px;top:595px;font-size:15px;font-weight:bold;color:#495057;opacity:.9">41%</div>
<div class="t" style="left:844px;top:597.6px;font-size:8.8px;color:#495057;opacity:.5">Generated Leads</div>

<!-- settings fab -->
<div class="a" style="left:903.1px;top:373.4px;width:33.8px;height:33.8px;border-radius:50%;background:#f7b924;box-shadow:0 2px 8px rgba(0,0,0,.12)"></div>
<svg class="a" style="left:911.9px;top:382.5px" width="15" height="15" viewBox="0 0 15 15"><path d="M6.29 2.14 L7.13 0.21 L10.80 0.99 L10.79 3.09 L11.54 3.77 L13.63 3.54 L14.79 7.10 L12.96 8.15 L12.75 9.13 L14.00 10.83 L11.49 13.62 L9.67 12.55 L8.71 12.86 L7.87 14.79 L4.20 14.01 L4.21 11.91 L3.46 11.23 L1.37 11.46 L0.21 7.90 L2.04 6.85 L2.25 5.87 L1.00 4.17 L3.51 1.38 L5.33 2.45Z M7.5 5.2 a2.3 2.3 0 1 0 0.01 0Z" fill="#1d1f24" fill-rule="evenodd" stroke="#1d1f24" stroke-width=".5" stroke-linejoin="round"/></svg>
</body></html>
